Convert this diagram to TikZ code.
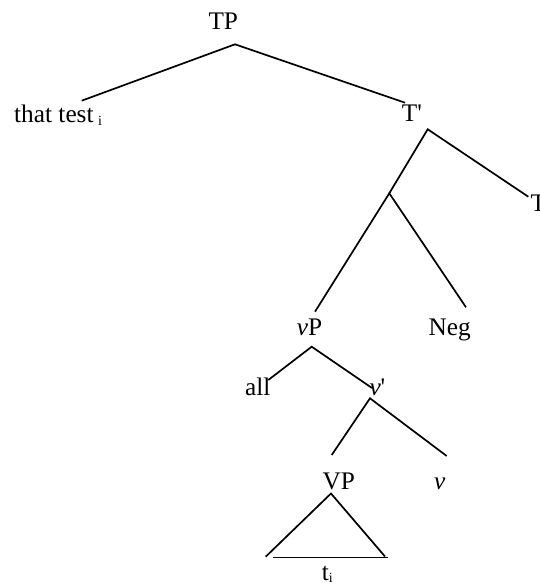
\documentclass[tikz,border=0pt]{standalone}
\usepackage{fontspec}
\setmainfont{Liberation Serif}
\newcommand\lowidx[1]{\raisebox{-2.5pt}{\fontsize{14}{14}\selectfont #1}}
\begin{document}
\begin{tikzpicture}[x=1pt,y=-1pt,
  lbl/.style={inner sep=0pt, anchor=base west, font=\fontsize{25.3}{30}\selectfont},
  branch/.style={line width=1.7pt}]
\useasboundingbox (0,0) rectangle (540,586);
% labels
\node[lbl] (TP)   at (208.3,29.3)  {TP};
\node[lbl] (that) at (14,122.7)    {that test\hspace{4.5pt}\lowidx{i}};
\node[lbl] (Tbar) at (401.7,121.7) {T\textquotesingle};
\node[lbl] (T)    at (530.5,211.7) {T};
\node[lbl] (vP)   at (296.7,335)   {\textit{v}P};
\node[lbl] (Neg)  at (428.3,335)   {Neg};
\node[lbl] (all)  at (245,395.7)   {all};
\node[lbl] (vbar) at (369.3,395.5) {\textit{v}\textquotesingle};
\node[lbl] (VP)   at (322.3,489.3) {VP};
\node[lbl] (v)    at (434,489.3)   {\textit{v}};
\node[lbl] (t)    at (321.7,580)   {t\lowidx{i}};
% branch points
\coordinate (TP-b)   at (235,44.3);
\coordinate (that-t) at (81.7,100.7);
\coordinate (Tbar-t) at (405,102.7);
\coordinate (Tbar-b) at (427.7,129.3);
\coordinate (T-t)    at (528.3,196.7);
\coordinate (mid)    at (389.3,193.3);
\coordinate (vP-t)   at (315,311.7);
\coordinate (Neg-t)  at (466,307.3);
\coordinate (vP-b)   at (311.7,346.7);
\coordinate (all-t)  at (268.3,380);
\coordinate (vbar-t) at (372,388);
\coordinate (vbar-b) at (370,398.3);
\coordinate (VP-t)   at (331.7,455);
\coordinate (v-t)    at (446.7,456);
\coordinate (VP-b)   at (331,493.5);
\coordinate (triL)   at (265.7,556.7);
\coordinate (triR)   at (385,556.5);
\coordinate (baseL)  at (273.3,557.5);
\coordinate (baseR)  at (388.3,557.5);
% branches
\draw[branch] (that-t) -- (TP-b) -- (Tbar-t);
\draw[branch] (mid) -- (Tbar-b) -- (T-t);
\draw[branch] (vP-t) -- (mid) -- (Neg-t);
\draw[branch] (all-t) -- (vP-b) -- (vbar-t);
\draw[branch] (VP-t) -- (vbar-b) -- (v-t);
\draw[branch] (triL) -- (VP-b) -- (triR);
\draw[branch] (baseL) -- (baseR);
\end{tikzpicture}
\end{document}
